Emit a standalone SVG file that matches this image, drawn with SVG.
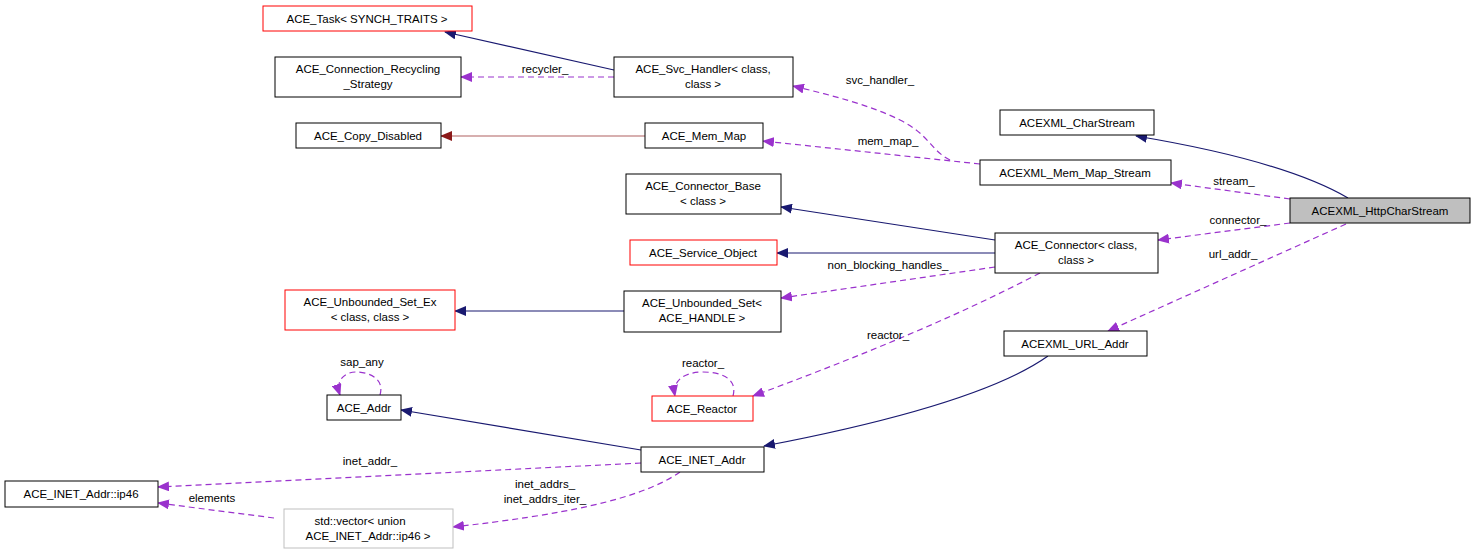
<svg xmlns="http://www.w3.org/2000/svg" width="1475" height="555" viewBox="0 0 1475 555">
<style>
text{font-family:"Liberation Sans",Arial,sans-serif;font-size:11.5px;fill:#000;text-anchor:middle}
.n{fill:#fff;stroke:#000;stroke-width:1}
.r{fill:#fff;stroke:#ff0000;stroke-width:1}
.g{fill:#fff;stroke:#bfbfbf;stroke-width:1}
.h{fill:#bfbfbf;stroke:#000;stroke-width:1}
.inh{fill:none;stroke:#191970;stroke-width:1.2}
.use{fill:none;stroke:#9a32cd;stroke-width:1.2;stroke-dasharray:6,4}
.pri{fill:none;stroke:#b06060;stroke-width:1.2}
</style>
<defs>
<marker id="an" markerWidth="12" markerHeight="10" refX="11" refY="5" orient="auto" markerUnits="userSpaceOnUse"><path d="M0,0 L12,5 L0,10 z" fill="#191970"/></marker>
<marker id="ap" markerWidth="12" markerHeight="10" refX="11" refY="5" orient="auto" markerUnits="userSpaceOnUse"><path d="M0,0 L12,5 L0,10 z" fill="#9a32cd"/></marker>
<marker id="ab" markerWidth="12" markerHeight="10" refX="11" refY="5" orient="auto" markerUnits="userSpaceOnUse"><path d="M0,0 L12,5 L0,10 z" fill="#8b1a1a"/></marker>
</defs>
<g id="edges">
<path class="inh" marker-end="url(#an)" d="M614,70 L445,32"/>
<path class="use" marker-end="url(#ap)" d="M614,77 L461,77"/>
<text x="545" y="73">recycler_</text>
<path class="pri" marker-end="url(#ab)" d="M645,136 L441,136"/>
<path class="use" marker-end="url(#ap)" d="M950,160 C930,150 930,135 900,120 C870,105 830,95 793,86"/>
<text x="880" y="84">svc_handler_</text>
<path class="use" marker-end="url(#ap)" d="M980,164 L763,141"/>
<text x="888" y="145">mem_map_</text>
<path class="inh" marker-end="url(#an)" d="M1348,198 C1300,170 1220,150 1136,136"/>
<path class="use" marker-end="url(#ap)" d="M1290,199 L1171,183"/>
<text x="1234" y="185">stream_</text>
<path class="use" marker-end="url(#ap)" d="M1290,223 L1158,240"/>
<text x="1238" y="224">connector_</text>
<path class="use" marker-end="url(#ap)" d="M1346,224 L1108,331"/>
<text x="1233" y="258">url_addr_</text>
<path class="inh" marker-end="url(#an)" d="M995,240 L781,207"/>
<path class="inh" marker-end="url(#an)" d="M995,253 L777,253"/>
<path class="use" marker-end="url(#ap)" d="M995,267 L781,298"/>
<text x="888" y="269">non_blocking_handles_</text>
<path class="use" marker-end="url(#ap)" d="M1040,273 C950,320 850,360 753,396"/>
<text x="888" y="339">reactor_</text>
<path class="use" marker-end="url(#ap)" d="M733,396 C738,378 720,372 703,372 C685,372 672,380 675,396"/>
<text x="703" y="367">reactor_</text>
<path class="inh" marker-end="url(#an)" d="M624,311 L455,311"/>
<path class="inh" marker-end="url(#an)" d="M1048,356 C1000,390 900,420 764,446"/>
<path class="inh" marker-end="url(#an)" d="M641,450 L401,410"/>
<path class="use" marker-end="url(#ap)" d="M380,395 C385,378 368,372 356,372 C345,372 335,380 340,395"/>
<text x="362" y="366">sap_any</text>
<path class="use" marker-end="url(#ap)" d="M641,463 L158,487"/>
<text x="370" y="465">inet_addr_</text>
<path class="use" marker-end="url(#ap)" d="M680,472 C640,500 560,515 453,527"/>
<text x="545" y="488">inet_addrs_</text>
<text x="545" y="503">inet_addrs_iter_</text>
<path class="use" marker-end="url(#ap)" d="M274,518 L158,503"/>
<text x="212" y="502">elements</text>
</g>
<g id="ACE_Task"><rect class="r" x="263" y="6" width="209" height="25"/><text x="367" y="23">ACE_Task&lt; SYNCH_TRAITS &gt;</text></g>
<g id="ACE_Connection_Recycling_Strategy"><rect class="n" x="275" y="57" width="186" height="40"/><text x="368" y="73">ACE_Connection_Recycling</text><text x="368" y="88">_Strategy</text></g>
<g id="ACE_Svc_Handler"><rect class="n" x="614" y="57" width="179" height="40"/><text x="703" y="73">ACE_Svc_Handler&lt; class,</text><text x="703" y="88">class &gt;</text></g>
<g id="ACE_Copy_Disabled"><rect class="n" x="296" y="123" width="145" height="25"/><text x="368" y="140">ACE_Copy_Disabled</text></g>
<g id="ACE_Mem_Map"><rect class="n" x="645" y="123" width="118" height="25"/><text x="704" y="140">ACE_Mem_Map</text></g>
<g id="ACEXML_CharStream"><rect class="n" x="1000" y="110" width="154" height="25"/><text x="1077" y="127">ACEXML_CharStream</text></g>
<g id="ACEXML_Mem_Map_Stream"><rect class="n" x="980" y="160" width="191" height="25"/><text x="1075" y="177">ACEXML_Mem_Map_Stream</text></g>
<g id="ACEXML_HttpCharStream"><rect class="h" x="1290" y="198" width="180" height="25"/><text x="1380" y="215">ACEXML_HttpCharStream</text></g>
<g id="ACE_Connector_Base"><rect class="n" x="626" y="174" width="155" height="40"/><text x="703" y="190">ACE_Connector_Base</text><text x="703" y="205">&lt; class &gt;</text></g>
<g id="ACE_Connector"><rect class="n" x="995" y="233" width="163" height="40"/><text x="1076" y="249">ACE_Connector&lt; class,</text><text x="1076" y="264">class &gt;</text></g>
<g id="ACE_Service_Object"><rect class="r" x="630" y="240" width="147" height="25"/><text x="703" y="257">ACE_Service_Object</text></g>
<g id="ACE_Unbounded_Set_Ex"><rect class="r" x="285" y="290" width="170" height="40"/><text x="370" y="306">ACE_Unbounded_Set_Ex</text><text x="370" y="321">&lt; class, class &gt;</text></g>
<g id="ACE_Unbounded_Set"><rect class="n" x="624" y="291" width="157" height="41"/><text x="702" y="307">ACE_Unbounded_Set&lt;</text><text x="702" y="322">ACE_HANDLE &gt;</text></g>
<g id="ACEXML_URL_Addr"><rect class="n" x="1004" y="331" width="143" height="25"/><text x="1075" y="348">ACEXML_URL_Addr</text></g>
<g id="ACE_Addr"><rect class="n" x="327" y="395" width="74" height="25"/><text x="364" y="412">ACE_Addr</text></g>
<g id="ACE_Reactor"><rect class="r" x="652" y="396" width="101" height="25"/><text x="702" y="413">ACE_Reactor</text></g>
<g id="ACE_INET_Addr"><rect class="n" x="641" y="447" width="123" height="25"/><text x="702" y="464">ACE_INET_Addr</text></g>
<g id="ACE_INET_Addr_ip46"><rect class="n" x="5" y="481" width="153" height="26"/><text x="81" y="498">ACE_INET_Addr::ip46</text></g>
<g id="std_vector"><rect class="g" x="284" y="509" width="169" height="39"/><text x="360" y="525">std::vector&lt; union</text><text x="368" y="540">ACE_INET_Addr::ip46 &gt;</text></g>
</svg>
